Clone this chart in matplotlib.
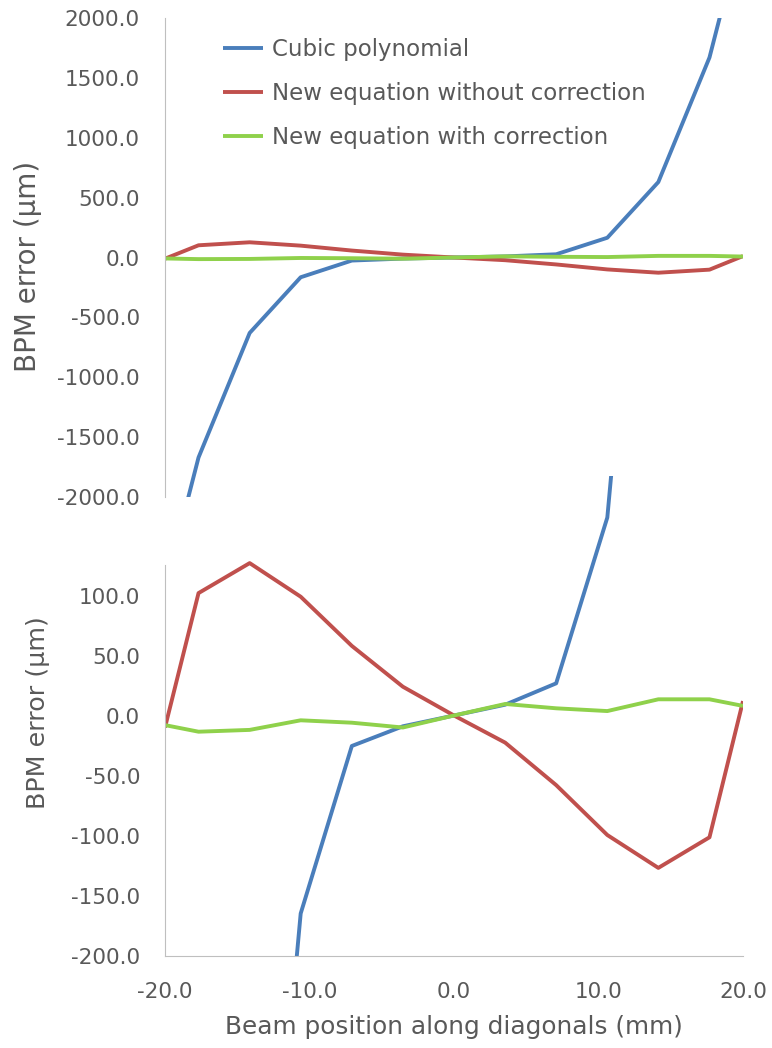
import matplotlib
matplotlib.use('Agg')
import matplotlib.pyplot as plt
from matplotlib.ticker import FormatStrFormatter

# ---- data ----
x_pos = [-20.0, -17.68, -14.14, -10.61, -7.07, -3.54, 0.0, 3.54, 7.07, 10.61, 14.14, 17.68, 20.0]
cubic_poly = [-2760, -1670, -630, -165, -25.4, -9.0, 0.0, 9.0, 26.8, 165, 630, 1670, 2760]
new_no_corr = [-10, 102, 127, 99, 58, 24, 0.0, -22.6, -58, -99.6, -127, -101.5, 12]
new_with_corr = [-8, -13.5, -12, -4, -6, -10, 0.0, 9.6, 6, 3.7, 13.5, 13.5, 8]

series_names = ["Cubic polynomial", "New equation without correction", "New equation with correction"]
series_colors = ["#4A7EBB", "#C0504D", "#8FD14B"]

top_yticks = [-2000, -1500, -1000, -500, 0, 500, 1000, 1500, 2000]
bottom_yticks = [-200, -150, -100, -50, 0, 50, 100]
xticks = [-20, -10, 0, 10, 20]

xlabel = "Beam position along diagonals (mm)"
ylabel = "BPM error (\u00b5m)"

# ---- figure ----
plt.rcParams['font.family'] = ['DejaVu Sans']
W, H = 772, 1048
fig = plt.figure(figsize=(W / 100, H / 100), dpi=100)
txt = "#595959"
spine_c = "#BFBFBF"
lw = 2.8
tick_fs = 15.5

# bottom chart plot area extends to +200 (upper part masked by the top chart)
ax2 = fig.add_axes([165 / W, 1 - 955.5 / H, 578 / W, 480 / H])
ax1 = fig.add_axes([165 / W, 1 - 497 / H, 578 / W, 479 / H])
ax1.set_zorder(3)
ax2.set_zorder(1)

all_series = [cubic_poly, new_no_corr, new_with_corr]
for ax in (ax1, ax2):
    ax.patch.set_alpha(0)
    for ys, name, c in zip(all_series, series_names, series_colors):
        ax.plot(x_pos, ys, color=c, lw=lw, label=name, solid_joinstyle='round',
                solid_capstyle='butt')
    ax.set_xlim(-20, 20)
    ax.spines['top'].set_visible(False)
    ax.spines['right'].set_visible(False)
    ax.spines['left'].set_color(spine_c)
    ax.spines['bottom'].set_color(spine_c)
    ax.tick_params(length=0, labelsize=tick_fs, labelcolor=txt)
    ax.yaxis.set_major_formatter(FormatStrFormatter('%.1f'))
    ax.xaxis.set_major_formatter(FormatStrFormatter('%.1f'))
    ax.tick_params(axis='y', pad=18)
    ax.tick_params(axis='x', pad=19)

ax1.set_ylim(-2000, 2000)
ax1.set_yticks(top_yticks)
ax1.spines['bottom'].set_visible(False)
ax1.set_xticks([])

ax2.set_ylim(-200, 200)
ax2.set_yticks(bottom_yticks)
ax2.spines['left'].set_bounds(-200, 125.4)
ax2.set_xticks(xticks)

fig.text(28 / W, 1 - 266 / H, ylabel, rotation=90, ha='center', va='center', fontsize=20, color=txt)
fig.text(38 / W, 1 - 713 / H, ylabel, rotation=90, ha='center', va='center', fontsize=18.3, color=txt)
fig.text(454 / W, 1 - 1027 / H, xlabel, ha='center', va='center', fontsize=17.8, color=txt)

handles, labels = ax1.get_legend_handles_labels()
leg = fig.legend(handles, labels, loc='upper left', bbox_to_anchor=(223 / W, 1 - 38 / H),
                 frameon=False, fontsize=16.5, handlelength=1.75, handletextpad=0.40,
                 labelspacing=0.91, borderpad=0, borderaxespad=0)
leg.set_zorder(5)
for t in leg.get_texts():
    t.set_color(txt)

fig.savefig("out.png", dpi=100)
